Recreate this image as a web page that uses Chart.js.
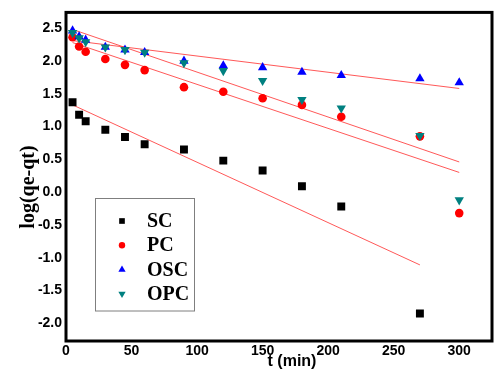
<!DOCTYPE html>
<html>
<head>
<meta charset="utf-8">
<script src="https://cdn.jsdelivr.net/npm/chart.js@4/dist/chart.umd.min.js"></script>
<style>
html,body{margin:0;padding:0;background:#fff;}
#wrap{position:relative;width:500px;height:386px;}
</style>
</head>
<body>
<div id="wrap"><canvas id="c" width="500" height="386"></canvas></div>
<script>
// ---- data ----
const times = [5, 10, 15, 30, 45, 60, 90, 120, 150, 180, 210, 270, 300];
const scValues  = [1.37, 1.18, 1.08, 0.95, 0.84, 0.73, 0.65, 0.48, 0.33, 0.09, -0.22, -1.85];
const pcValues  = [2.36, 2.22, 2.14, 2.03, 1.94, 1.86, 1.60, 1.53, 1.43, 1.33, 1.15, 0.85, -0.32];
const oscValues = [2.46, 2.37, 2.32, 2.21, 2.17, 2.13, 2.00, 1.93, 1.90, 1.83, 1.78, 1.73, 1.67];
const opcValues = [2.43, 2.35, 2.29, 2.21, 2.17, 2.13, 1.97, 1.85, 1.70, 1.41, 1.28, 0.86, -0.12];
// linear fit end points [t, value]
const fitSC  = [[5, 1.33], [270, -1.11]];
const fitPC  = [[5, 2.28], [300, 0.30]];
const fitOSC = [[5, 2.31], [300, 1.58]];
const fitOPC = [[5, 2.48], [300, 0.46]];
const seriesNames = ['SC', 'PC', 'OSC', 'OPC'];
const xTickValues = [0, 50, 100, 150, 200, 250, 300];
const yTickValues = [-2.0, -1.5, -1.0, -0.5, 0.0, 0.5, 1.0, 1.5, 2.0, 2.5];

function pts(vals){ return vals.map((v,i)=>({x: times[i], y: v})); }
function fitPts(f){ return f.map(p=>({x:p[0], y:p[1]})); }

const fitColor = 'rgba(255,70,70,0.9)';
const datasets = [
  {label: seriesNames[0], data: pts(scValues), pointStyle: 'rect', pointRadius: 5.6, backgroundColor: '#000', borderColor: '#000', borderWidth: 0, showLine: false, order: 3, legendRadius: 4},
  {label: seriesNames[1], data: pts(pcValues), pointStyle: 'circle', pointRadius: 4.3, backgroundColor: '#ff0000', borderColor: '#ff0000', borderWidth: 0, showLine: false, order: 2, legendRadius: 3.2},
  {label: seriesNames[2], data: pts(oscValues), pointStyle: 'triangle', pointRadius: 5.4, backgroundColor: '#0000ff', borderColor: '#0000ff', borderWidth: 0, showLine: false, order: 1, legendRadius: 4.2},
  {label: seriesNames[3], data: pts(opcValues), pointStyle: 'triangle', rotation: 180, pointRotation: 180, pointRadius: 5.4, backgroundColor: '#008080', borderColor: '#008080', borderWidth: 0, showLine: false, order: 0, legendRadius: 4.2},
  {label: 'fitSC', data: fitPts(fitSC), showLine: true, pointRadius: 0, borderColor: fitColor, borderWidth: 1, fill: false, order: 10, isFit: true},
  {label: 'fitPC', data: fitPts(fitPC), showLine: true, pointRadius: 0, borderColor: fitColor, borderWidth: 1, fill: false, order: 10, isFit: true},
  {label: 'fitOSC', data: fitPts(fitOSC), showLine: true, pointRadius: 0, borderColor: fitColor, borderWidth: 1, fill: false, order: 10, isFit: true},
  {label: 'fitOPC', data: fitPts(fitOPC), showLine: true, pointRadius: 0, borderColor: fitColor, borderWidth: 1, fill: false, order: 10, isFit: true}
];

const framePlugin = {
  id: 'frame',
  beforeDatasetsDraw(chart){
    const {ctx, chartArea: a} = chart;
    ctx.save();
    ctx.strokeStyle = '#000';
    ctx.lineWidth = 3;
    ctx.strokeRect(a.left, a.top, a.right - a.left, a.bottom - a.top);
    ctx.restore();
  },
  afterDraw(chart){
    const ctx = chart.ctx;
    ctx.save();
    // axis titles
    ctx.fillStyle = '#000';
    ctx.font = 'bold 16px "Liberation Sans", Arial, sans-serif';
    ctx.textAlign = 'center';
    ctx.textBaseline = 'middle';
    ctx.fillText('t (min)', 292, 362);
    ctx.save();
    ctx.translate(29, 187);
    ctx.rotate(-Math.PI/2);
    ctx.font = 'bold 20px "Liberation Serif", "Times New Roman", serif';
    ctx.fillText('log(qe-qt)', 0, 0);
    ctx.restore();
    // legend box
    ctx.strokeStyle = '#7f7f7f';
    ctx.lineWidth = 1;
    ctx.strokeRect(95.5, 198.5, 99, 112.5);
    const main = chart.data.datasets.filter(d => !d.isFit);
    main.forEach((d, i) => {
      const y = 221 + i * 24.3;
      const opts = {pointStyle: d.pointStyle, radius: d.legendRadius, rotation: d.rotation || 0, borderWidth: 0};
      ctx.fillStyle = d.backgroundColor;
      ctx.strokeStyle = d.backgroundColor;
      Chart.helpers.drawPoint(ctx, opts, 122, y);
      ctx.fillStyle = '#000';
      ctx.font = 'bold 20px "Liberation Serif", "Times New Roman", serif';
      ctx.textAlign = 'left';
      ctx.textBaseline = 'middle';
      ctx.fillText(d.label, 147, y + 1);
    });
    ctx.restore();
  }
};

new Chart(document.getElementById('c'), {
  type: 'scatter',
  data: {datasets},
  options: {
    responsive: false,
    animation: false,
    devicePixelRatio: 1,
    layout: {padding: {left: 0, top: 9, right: 8, bottom: 0}},
    plugins: {legend: {display: false}, tooltip: {enabled: false}},
    elements: {line: {tension: 0}},
    scales: {
      x: {
        type: 'linear', min: 0, max: 325,
        afterBuildTicks(s){ s.ticks = xTickValues.map(v => ({value: v})); },
        afterFit(s){ s.height = 45; },
        grid: {display: false, drawTicks: false},
        border: {display: false},
        ticks: {padding: 2, color: '#000', font: {family: '"Liberation Sans", Arial, sans-serif', size: 14, weight: 'bold'}, callback: v => String(v)}
      },
      y: {
        type: 'linear', min: -2.27, max: 2.74,
        afterBuildTicks(s){ s.ticks = yTickValues.map(v => ({value: v})); },
        afterFit(s){ s.width = 66; },
        grid: {display: false, drawTicks: false},
        border: {display: false},
        ticks: {padding: 4, color: '#000', font: {family: '"Liberation Sans", Arial, sans-serif', size: 14, weight: 'bold'}, callback: v => Number(v).toFixed(1)}
      }
    }
  },
  plugins: [framePlugin]
});
</script>
</body>
</html>
